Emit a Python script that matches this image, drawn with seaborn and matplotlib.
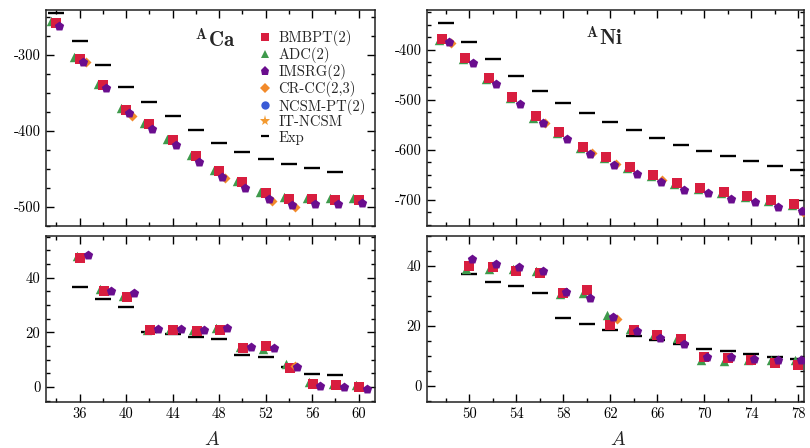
import numpy as np
import pandas as pd
import matplotlib
matplotlib.use("Agg")
import matplotlib.pyplot as plt
import seaborn as sns
from matplotlib.ticker import MultipleLocator
from matplotlib.lines import Line2D

sns.set_theme(style="ticks")
plt.rcParams["font.family"] = "serif"
plt.rcParams["font.serif"] = ["cmr10"]
plt.rcParams["mathtext.fontset"] = "cm"
plt.rcParams["axes.unicode_minus"] = False
plt.rcParams["axes.formatter.use_mathtext"] = False

# ---------------- data ----------------
# Calcium, binding energies (MeV)
ca_A_th = [34, 36, 38, 40, 42, 44, 46, 48, 50, 52, 54, 56, 58, 60]
ca_E_bmbpt = [-258, -305, -339, -372, -391, -412, -433, -453, -467, -482, -490, -490, -491, -491]
ca_E_adc = [-255, -303, -338, -370, -390, -410, -431, -451, -466, -480, -487, -488, -488, -488]
ca_E_imsrg = [-262, -309, -344, -377, -398, -419, -441, -461, -475, -490, -497, -496, -496, -495]
ca_A_cc = [36, 40, 48, 52, 54]
ca_E_cc = [-310, -380, -462, -492, -500]
ca_A_exp = [34, 36, 38, 40, 42, 44, 46, 48, 50, 52, 54, 56, 58]
ca_E_exp = [-245, -281.4, -313.1, -342.1, -361.9, -381.0, -398.8, -416.0, -427.5, -436.6, -443.8, -449.0, -454.0]

# Calcium, two-neutron separation energies (MeV)
ca_A_s2n = [36, 38, 40, 42, 44, 46, 48, 50, 52, 54, 56, 58, 60]
ca_S_bmbpt = [47.3, 35.1, 32.8, 20.8, 20.8, 20.3, 20.8, 14.1, 14.9, 7.0, 1.2, 0.6, 0.0]
ca_S_adc = [48.0, 35.9, 33.3, 21.0, 21.2, 21.0, 21.4, 14.7, 13.8, 8.3, 1.8, 1.0, 0.6]
ca_S_imsrg = [48.3, 35.1, 34.3, 21.2, 21.2, 21.0, 21.4, 14.7, 14.4, 7.3, 0.4, 0.0, -0.8]
ca_A_s2n_cc = [54]
ca_S_cc = [7.6]
ca_A_s2n_exp = [36, 38, 40, 42, 44, 46, 48, 50, 52, 54, 56, 58]
ca_S_exp = [36.7, 32.1, 29.1, 20.1, 19.2, 18.1, 17.5, 11.6, 11.0, 7.3, 4.9, 4.3]

# Nickel, binding energies (MeV)
ni_A_th = [48, 50, 52, 54, 56, 58, 60, 62, 64, 66, 68, 70, 72, 74, 76, 78]
ni_E_bmbpt = [-378, -417, -457, -495, -533, -565, -595, -615, -635, -651, -667, -677, -685, -692, -700, -708]
ni_E_adc = [-380, -419, -459, -497, -536, -567, -597, -617, -637, -653, -669, -679, -687, -694, -702, -710]
ni_E_imsrg = [-385, -427, -469, -509, -547, -578, -608, -631, -649, -665, -680, -687, -698, -705, -715, -722]
ni_A_cc = [48, 56, 60, 62, 66, 78]
ni_E_cc = [-387, -547, -607, -629, -660, -724]
ni_A_exp = [48, 50, 52, 54, 56, 58, 60, 62, 64, 66, 68, 70, 72, 74, 76, 78]
ni_E_exp = [-345.5, -383.5, -418.5, -452.5, -481.5, -505.5, -525.5, -545.0, -560.5, -575.5, -590.0, -601.5, -612.0, -623.0, -631.5, -641.0]

# Nickel, two-neutron separation energies (MeV)
ni_A_s2n = [50, 52, 54, 56, 58, 60, 62, 64, 66, 68, 70, 72, 74, 76, 78]
ni_S_bmbpt = [40.0, 39.5, 38.4, 37.6, 30.9, 31.8, 20.3, 18.6, 17.0, 15.5, 9.4, 9.2, 8.4, 7.5, 6.9]
ni_S_adc = [39.0, 39.0, 38.8, 38.4, 30.7, 31.1, 23.6, 19.0, 17.2, 15.8, 8.6, 8.1, 8.4, 8.6, 8.4]
ni_S_imsrg = [42.3, 40.7, 39.5, 38.4, 31.4, 29.4, 23.0, 18.3, 15.8, 13.8, 9.7, 9.5, 8.8, 8.6, 8.6]
ni_A_s2n_cc = [62]
ni_S_cc = [22.2]
ni_A_s2n_exp = [50, 52, 54, 56, 58, 60, 62, 64, 66, 68, 70, 72, 74, 76, 78]
ni_S_exp = [37.3, 34.6, 33.3, 30.9, 22.5, 20.6, 18.6, 16.7, 15.1, 13.8, 12.2, 11.4, 10.6, 9.7, 8.8]

# NCSM-PT(2) and IT-NCSM: no points visible in this range
ncsm_A, ncsm_E = [], []
itncsm_A, itncsm_E = [], []

labels = ["BMBPT(2)", "ADC(2)", "IMSRG(2)", "CR-CC(2,3)", "NCSM-PT(2)", "IT-NCSM", "Exp"]

# ---------------- style ----------------
C_RED = "#d81e3f"
C_GREEN = "#3f9a4c"
C_PURPLE = "#6a0d8e"
C_ORANGE = "#f28a2a"
C_BLUE = "#3a5bd6"
C_STAR = "#f39a30"

fig = plt.figure(figsize=(8.10, 4.48), dpi=100)
W, H = 810, 448
def box(x0, x1, ytop, ybot):
    return [x0 / W, (H - ybot) / H, (x1 - x0) / W, (ybot - ytop) / H]

ax_ca_t = fig.add_axes(box(46, 375, 10, 226))
ax_ca_b = fig.add_axes(box(46, 375, 236, 402))
ax_ni_t = fig.add_axes(box(427, 804, 10, 226))
ax_ni_b = fig.add_axes(box(427, 804, 236, 402))

def draw(ax, A, adc, bm, ims, Acc, cc, Aexp, exp, offs):
    d = pd.DataFrame({"A": A, "adc": adc, "bm": bm, "ims": ims})
    dcc = pd.DataFrame({"A": Acc, "v": cc})
    dex = pd.DataFrame({"A": Aexp, "v": exp})
    sns.scatterplot(x=dex["A"], y=dex["v"], ax=ax, marker="_", color="black",
                    s=140, linewidth=1.7, zorder=2)
    sns.scatterplot(x=d["A"] + offs[0], y=d["adc"], ax=ax, marker="^", color=C_GREEN,
                    s=46, linewidth=0, zorder=3)
    sns.scatterplot(x=d["A"] + offs[1], y=d["bm"], ax=ax, marker="s", color=C_RED,
                    s=44, linewidth=0, zorder=4)
    sns.scatterplot(x=dcc["A"] + offs[3], y=dcc["v"], ax=ax, marker="D", color=C_ORANGE,
                    s=26, linewidth=0, zorder=5)
    sns.scatterplot(x=d["A"] + offs[2], y=d["ims"], ax=ax, marker="p", color=C_PURPLE,
                    s=50, linewidth=0, zorder=6)
    ax.set_xlabel("")
    ax.set_ylabel("")

draw(ax_ca_t, ca_A_th, ca_E_adc, ca_E_bmbpt, ca_E_imsrg, ca_A_cc, ca_E_cc,
     ca_A_exp, ca_E_exp, (-0.45, 0.0, 0.25, 0.5))
draw(ax_ca_b, ca_A_s2n, ca_S_adc, ca_S_bmbpt, ca_S_imsrg, ca_A_s2n_cc, ca_S_cc,
     ca_A_s2n_exp, ca_S_exp, (-0.25, 0.05, 0.7, 0.55))
draw(ax_ni_t, ni_A_th, ni_E_adc, ni_E_bmbpt, ni_E_imsrg, ni_A_cc, ni_E_cc,
     ni_A_exp, ni_E_exp, (-0.55, -0.35, 0.3, 0.45))
draw(ax_ni_b, ni_A_s2n, ni_S_adc, ni_S_bmbpt, ni_S_imsrg, ni_A_s2n_cc, ni_S_cc,
     ni_A_s2n_exp, ni_S_exp, (-0.3, 0.0, 0.25, 0.55))

ax_ca_t.set_xlim(33.1, 61.4); ax_ca_b.set_xlim(33.1, 61.4)
ax_ni_t.set_xlim(46.4, 78.5); ax_ni_b.set_xlim(46.4, 78.5)
ax_ca_t.set_ylim(-525, -241)
ax_ca_b.set_ylim(-5.5, 55.2)
ax_ni_t.set_ylim(-752, -320)
ax_ni_b.set_ylim(-5.5, 50)

for ax, xs in [(ax_ca_t, 36), (ax_ca_b, 36), (ax_ni_t, 50), (ax_ni_b, 50)]:
    ax.xaxis.set_major_locator(MultipleLocator(4, offset=xs % 4))
    ax.xaxis.set_minor_locator(MultipleLocator(2))
for ax in [ax_ca_t, ax_ni_t]:
    ax.yaxis.set_major_locator(MultipleLocator(100))
    ax.yaxis.set_minor_locator(MultipleLocator(25))
    ax.tick_params(labelbottom=False)
for ax in [ax_ca_b, ax_ni_b]:
    ax.yaxis.set_major_locator(MultipleLocator(20))
    ax.yaxis.set_minor_locator(MultipleLocator(5))

for ax in [ax_ca_t, ax_ca_b, ax_ni_t, ax_ni_b]:
    ax.tick_params(which="both", direction="in", top=True, right=True,
                   colors="black", labelsize=10.5, width=1.0)
    ax.tick_params(which="major", length=5.5, pad=4)
    ax.tick_params(which="minor", length=3.2)
    for sp in ax.spines.values():
        sp.set_linewidth(1.1)
        sp.set_color("#222222")
    ax.set_facecolor("white")

ax_ca_t.text(0.515, 0.86, r"$^{\mathbf{A}}\mathbf{Ca}$", transform=ax_ca_t.transAxes,
             ha="center", va="center", fontsize=15)
ax_ni_t.text(0.47, 0.87, r"$^{\mathbf{A}}\mathbf{Ni}$", transform=ax_ni_t.transAxes,
             ha="center", va="center", fontsize=15)

fig.text(212 / W, 1 - 440 / H, r"$A$", ha="center", va="center", fontsize=14)
fig.text(618 / W, 1 - 440 / H, r"$A$", ha="center", va="center", fontsize=14)

handles = [
    Line2D([], [], ls="", marker="s", color=C_RED, markersize=6, mew=0),
    Line2D([], [], ls="", marker="^", color=C_GREEN, markersize=6, mew=0),
    Line2D([], [], ls="", marker="p", color=C_PURPLE, markersize=6.5, mew=0),
    Line2D([], [], ls="", marker="D", color=C_ORANGE, markersize=5, mew=0),
    Line2D([], [], ls="", marker="o", color=C_BLUE, markersize=6, mew=0),
    Line2D([], [], ls="", marker="*", color=C_STAR, markersize=8, mew=0),
    Line2D([], [], ls="", marker="_", color="black", markersize=6, mew=1.6),
]
leg = ax_ca_t.legend(handles, labels, loc="upper right", bbox_to_anchor=(0.99, 0.935),
                     frameon=False, fontsize=10.5, handlelength=0.8, handletextpad=0.5,
                     labelspacing=0.08, borderpad=0.2, borderaxespad=0.2)

fig.savefig("out.png", dpi=100, facecolor="white")
